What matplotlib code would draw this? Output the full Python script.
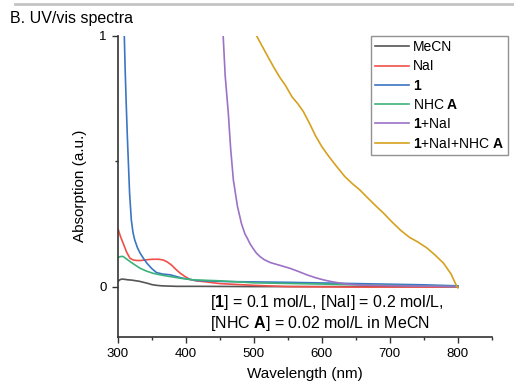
"""
UV/vis spectra of 1, NaI, NHC A and their mixtures in MeCN
"""
import numpy as np
import matplotlib
matplotlib.use('Agg')
import matplotlib.pyplot as plt
from matplotlib.lines import Line2D
from matplotlib.ticker import MultipleLocator

plt.rcParams['font.family'] = ['Liberation Sans', 'DejaVu Sans']
plt.rcParams['mathtext.fontset'] = 'custom'
plt.rcParams['mathtext.rm'] = 'Liberation Sans'
plt.rcParams['mathtext.bf'] = 'Liberation Sans:bold'

# spectra (wavelength in nm, absorption in a.u.)
wl_mecn = [300, 303, 306, 310, 315, 320, 325, 332, 338, 344, 350, 357, 365, 375, 387, 420, 500, 600,
           700, 800]
abs_mecn = [0.02, 0.027, 0.03, 0.029, 0.027, 0.026, 0.024, 0.021, 0.017, 0.013, 0.008, 0.005, 0.003,
            0.002, 0.001, 0.001, 0.0, 0.0, 0.0, 0.0]

wl_nai = [300, 301, 304, 308, 313, 318, 323, 328, 334, 340, 346, 352, 360, 367, 373, 379, 385, 392,
          399, 406, 415, 426, 450, 500, 550, 650, 800]
abs_nai = [0.23, 0.226, 0.2, 0.173, 0.138, 0.113, 0.106, 0.104, 0.104, 0.106, 0.108, 0.109, 0.109,
           0.106, 0.098, 0.086, 0.07, 0.053, 0.04, 0.029, 0.023, 0.02, 0.012, 0.005, 0.0, -0.002,
           -0.002]

wl_1 = [305, 309.7, 311, 312.5, 314, 315.6, 317.5, 320, 322.5, 325, 329, 333, 338, 343, 350, 357,
        366, 377, 396, 416, 460, 550, 650, 750, 800]
abs_1 = [1.6, 1.0, 0.86, 0.73, 0.61, 0.5, 0.37, 0.266, 0.215, 0.186, 0.155, 0.133, 0.112, 0.093,
         0.072, 0.056, 0.05, 0.047, 0.033, 0.024, 0.02, 0.017, 0.012, 0.007, 0.003]

wl_nhc = [300, 301, 305, 308, 313, 318, 325, 333, 342, 352, 364, 377, 393, 411, 450, 500, 600, 700,
          800]
abs_nhc = [0.115, 0.117, 0.12, 0.12, 0.11, 0.1, 0.087, 0.073, 0.062, 0.053, 0.046, 0.04, 0.033,
           0.027, 0.023, 0.015, 0.01, 0.005, 0.0]

wl_1_nai = [450, 455, 458, 462.6, 466, 470, 476, 482, 487, 491, 494.6, 500, 504, 509, 515, 524, 538,
            553, 565, 578, 590, 602, 612, 622, 637, 660, 700, 800]
abs_1_nai = [1.2, 1.0, 0.84, 0.69, 0.55, 0.425, 0.32, 0.25, 0.21, 0.19, 0.17, 0.148, 0.133, 0.12,
             0.108, 0.096, 0.085, 0.073, 0.061, 0.047, 0.036, 0.027, 0.021, 0.016, 0.01, 0.006,
             0.004, 0.0]

wl_all = [500, 504, 512, 520, 529, 538, 547, 556, 565, 573, 582, 591, 600, 610, 622, 634, 645, 656,
          668, 680, 691, 703, 716, 729, 741, 754, 766, 779, 790, 798.5, 800]
abs_all = [1.02, 1.0, 0.96, 0.92, 0.876, 0.835, 0.8, 0.757, 0.728, 0.697, 0.65, 0.6, 0.558, 0.52,
           0.478, 0.438, 0.41, 0.385, 0.352, 0.32, 0.292, 0.258, 0.224, 0.196, 0.178, 0.155, 0.127,
           0.093, 0.05, 0.0, -0.005]

series = [
    ("MeCN", wl_mecn, abs_mecn, '#555555'),
    ("NaI", wl_nai, abs_nai, '#f0504a'),
    (r"$\mathbf{1}$", wl_1, abs_1, '#3a76c4'),
    (r"NHC $\mathbf{A}$", wl_nhc, abs_nhc, '#3db37a'),
    (r"$\mathbf{1}$+NaI", wl_1_nai, abs_1_nai, '#9b72c6'),
    (r"$\mathbf{1}$+NaI+NHC $\mathbf{A}$", wl_all, abs_all, '#d6a11e'),
]

fig = plt.figure(figsize=(5.14, 3.84), dpi=100)
ax = fig.add_axes([0.229, 0.123, 0.728, 0.784])

for label, wl, a, color in series:
    ax.plot(wl, a, color=color, lw=1.2, label=label)

ax.set_xlim(300, 850)
ax.set_ylim(-0.2, 1)
ax.xaxis.set_minor_locator(MultipleLocator(50))
ax.set_xticks([300, 400, 500, 600, 700, 800])
ax.set_yticks([0, 1])
ax.set_yticks([0.5], minor=True)
ax.tick_params(which='major', length=4.5, width=1, labelsize=9.5, color='#333333')
ax.tick_params(which='minor', length=2.5, width=1, color='#333333')
for side in ('top', 'right'):
    ax.spines[side].set_visible(False)
for side in ('left', 'bottom'):
    ax.spines[side].set_linewidth(1.2)
    ax.spines[side].set_color('#333333')

ax.set_xlabel("Wavelength (nm)", fontsize=11, labelpad=5)
ax.set_ylabel("Absorption (a.u.)", fontsize=11, labelpad=9)

leg = ax.legend(loc='upper left', bbox_to_anchor=(371 / 514, 1 - 36 / 384),
                bbox_transform=fig.transFigure, borderaxespad=0, fontsize=10,
                fancybox=False, frameon=True, handlelength=2.4, handletextpad=0.3,
                labelspacing=0.38, borderpad=0.3)
leg.get_frame().set_edgecolor('#777777')
leg.get_frame().set_linewidth(1.0)

fig.text(210 / 514, 1 - 293 / 384,
         "[$\\mathbf{1}$] = 0.1 mol/L, [NaI] = 0.2 mol/L,\n[NHC $\\mathbf{A}$] = 0.02 mol/L in MeCN",
         fontsize=11.5, va='top', ha='left', linespacing=1.15)

fig.text(10 / 514, 1 - 18 / 384, "B. UV/vis spectra", fontsize=11.5, va='center', ha='left')
fig.add_artist(Line2D([15 / 514, 1], [1 - 4 / 384, 1 - 4 / 384], color='#c4c4c4', lw=2,
                      transform=fig.transFigure))

fig.savefig('out.png', dpi=100)
